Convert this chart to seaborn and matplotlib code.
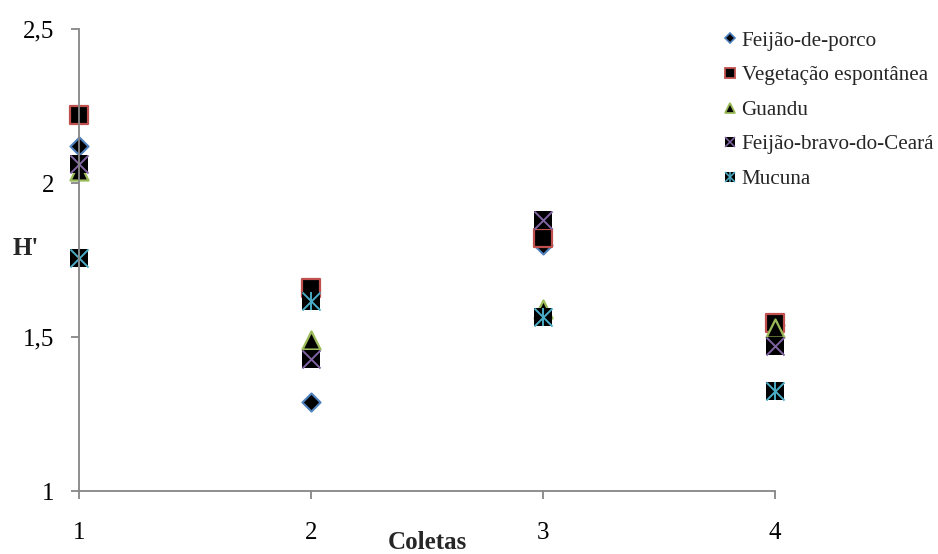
import matplotlib
matplotlib.use("Agg")
import matplotlib.pyplot as plt
from matplotlib.lines import Line2D
import seaborn as sns
import pandas as pd

# Shannon diversity index (H') per sampling event and cover crop
coletas = [1, 2, 3, 4]
feijao_de_porco = [2.12, 1.29, 1.80, 1.54]
vegetacao_espontanea = [2.22, 1.66, 1.82, 1.545]
guandu = [2.04, 1.49, 1.59, 1.53]
feijao_bravo_do_ceara = [2.063, 1.43, 1.88, 1.47]
mucuna = [1.757, 1.617, 1.565, 1.325]

series_names = ["Feijão-de-porco", "Vegetação espontânea", "Guandu",
                "Feijão-bravo-do-Ceará", "Mucuna"]
series_values = [feijao_de_porco, vegetacao_espontanea, guandu,
                 feijao_bravo_do_ceara, mucuna]
y_ticks = [1, 1.5, 2, 2.5]
y_tick_labels = ["1", "1,5", "2", "2,5"]

colors = ["#4F81BD", "#C0504D", "#9BBB59", "#8064A2", "#4BACC6"]
axis_gray = "#868686"

sns.set_theme(style="white")
plt.rcParams["font.family"] = ["Liberation Serif", "DejaVu Serif"]

fig = plt.figure(figsize=(9.38, 5.54), dpi=100)
ax = fig.add_axes([79 / 938, 63 / 554, 696 / 938, 462 / 554])

box = 13  # marker size in points
for name, vals, col in zip(series_names, series_values, colors):
    df = pd.DataFrame({"Coletas": coletas, "H": vals})
    common = dict(data=df, x="Coletas", y="H", ax=ax, clip_on=False, legend=False)
    if name == "Feijão-de-porco":
        sns.scatterplot(**common, marker="D", s=9.2 ** 2, color="black",
                        edgecolor=col, linewidth=1.5)
    elif name == "Vegetação espontânea":
        sns.scatterplot(**common, marker="s", s=box ** 2, color="black",
                        edgecolor=col, linewidth=1.6)
    elif name == "Guandu":
        sns.scatterplot(**common, marker="^", s=box ** 2, color="black",
                        edgecolor=col, linewidth=1.6)
    elif name == "Feijão-bravo-do-Ceará":
        sns.scatterplot(**common, marker="s", s=box ** 2, color="black",
                        linewidth=0)
        sns.scatterplot(**common, marker="x", s=box ** 2, color=col,
                        linewidth=1.4)
    else:
        sns.scatterplot(**common, marker="s", s=box ** 2, color="black",
                        linewidth=0)
        sns.scatterplot(**common, marker="x", s=box ** 2, color=col,
                        linewidth=1.4)
        sns.scatterplot(**common, marker="|", s=box ** 2, color=col,
                        linewidth=1.4)

ax.set_xlim(1, 4)
ax.set_ylim(1, 2.5)
ax.set_xticks(coletas)
ax.set_xticklabels([str(c) for c in coletas])
ax.set_yticks(y_ticks)
ax.set_yticklabels(y_tick_labels)

for side in ["top", "right"]:
    ax.spines[side].set_visible(False)
for side in ["left", "bottom"]:
    ax.spines[side].set_color(axis_gray)
    ax.spines[side].set_linewidth(1.3)

ax.tick_params(axis="both", direction="out", length=6, width=1.3,
               color=axis_gray, labelsize=18, labelcolor="black")
ax.tick_params(axis="x", pad=16, bottom=True)
ax.tick_params(axis="y", pad=12, left=True)

ax.set_xlabel("Coletas", fontsize=18, fontweight="bold", va="center")
ax.xaxis.set_label_coords(0.5, -0.112)
ax.set_ylabel("H'", fontsize=18, fontweight="bold", rotation=0,
              ha="center", va="center")
ax.yaxis.set_label_coords(-0.076, 0.524)

# Legend handles: small black-filled markers with coloured outlines
ms = 7
handles = [
    Line2D([], [], ls="none", marker="D", ms=ms * 0.72, mfc="black",
           mec=colors[0], mew=1.2),
    Line2D([], [], ls="none", marker="s", ms=ms, mfc="black",
           mec=colors[1], mew=1.3),
    Line2D([], [], ls="none", marker="^", ms=ms, mfc="black",
           mec=colors[2], mew=1.3),
    (Line2D([], [], ls="none", marker="s", ms=ms, mfc="black", mew=0),
     Line2D([], [], ls="none", marker="x", ms=ms, mec=colors[3], mew=1.1)),
    (Line2D([], [], ls="none", marker="s", ms=ms, mfc="black", mew=0),
     Line2D([], [], ls="none", marker="x", ms=ms, mec=colors[4], mew=1.1),
     Line2D([], [], ls="none", marker="|", ms=ms, mec=colors[4], mew=1.1)),
]
fig.legend(handles, series_names, loc="upper left",
           bbox_to_anchor=(723 / 938, 1 - 31 / 554), frameon=False,
           fontsize=15.2, handlelength=0.7, handletextpad=0.18,
           labelspacing=0.7, borderaxespad=0, borderpad=0)

fig.savefig("out.png", dpi=100)
